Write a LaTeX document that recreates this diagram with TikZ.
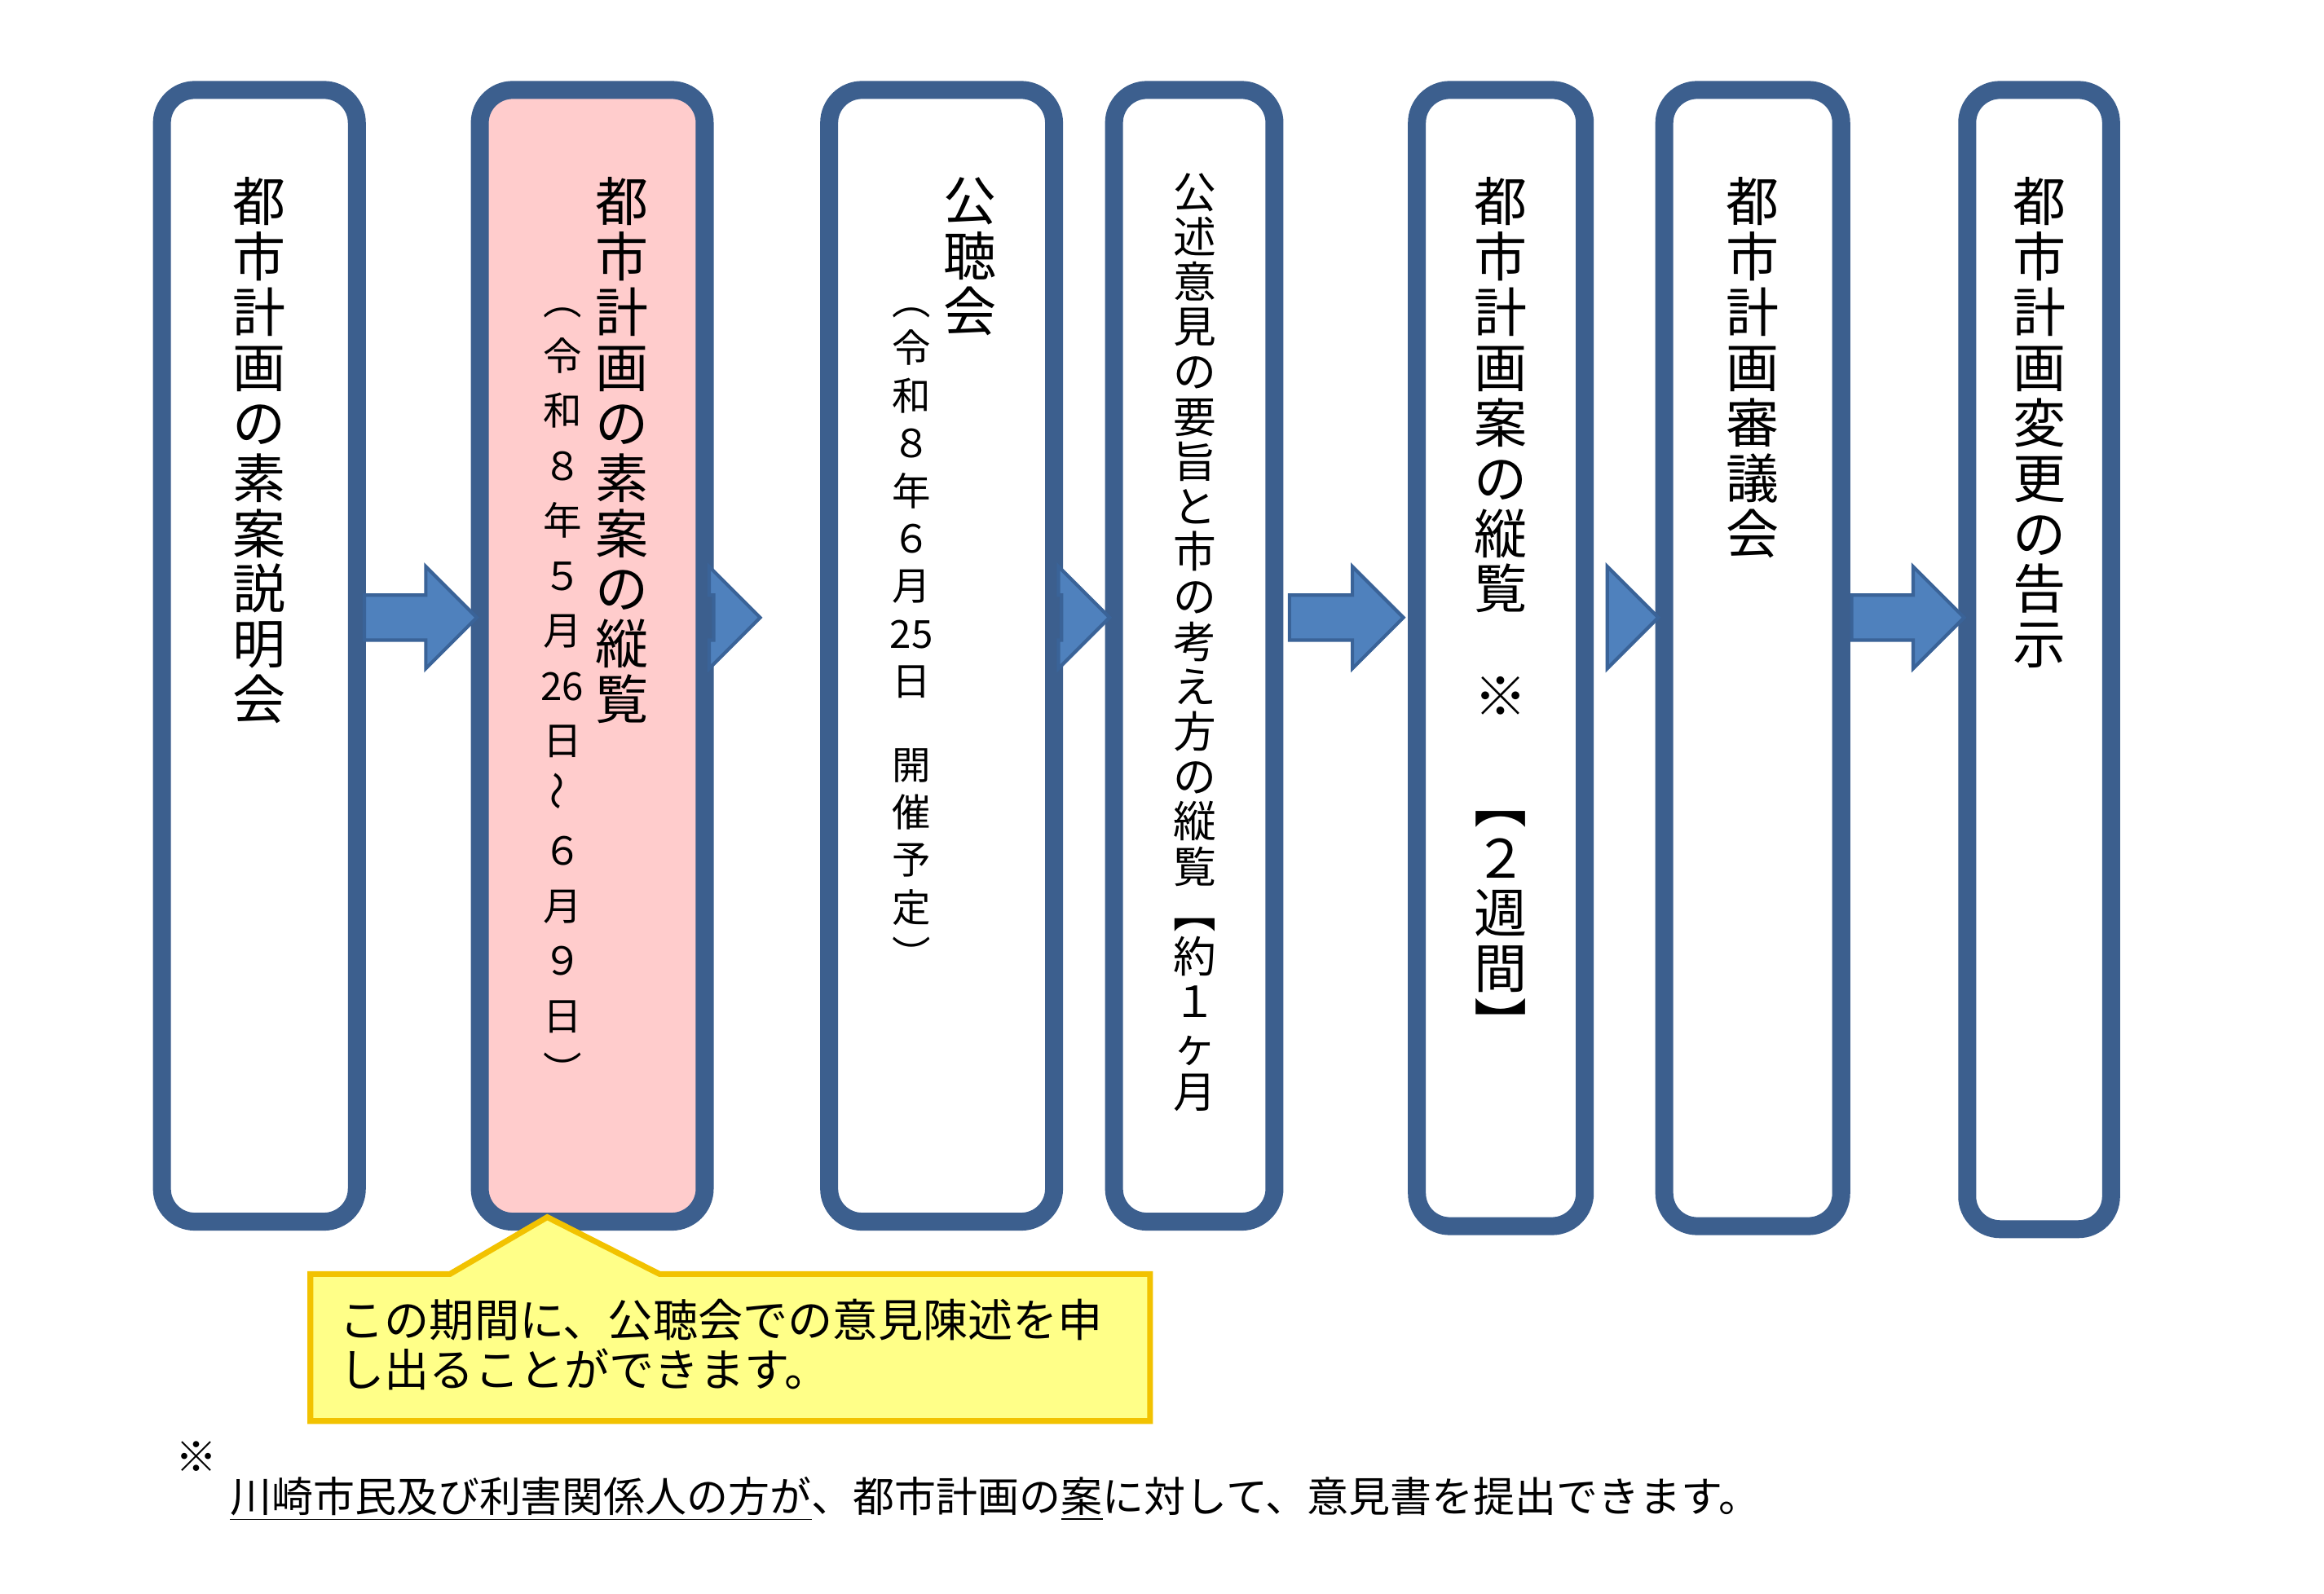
\documentclass[tikz,border=0pt]{standalone}
\usepackage{fontspec}
\newfontfamily\jp{Noto Sans CJK JP}
\usepackage{xcolor}
\definecolor{bd}{HTML}{3C5F8E}
\definecolor{af}{HTML}{4F81BD}
\definecolor{ab}{HTML}{3A6398}
\definecolor{pk}{HTML}{FFCCCC}
\definecolor{yf}{HTML}{FFFF88}
\definecolor{yb}{HTML}{F2C200}
\begin{document}
\begin{tikzpicture}[x=0.01839cm,y=-0.01839cm,
 box/.style={draw=bd,line width=12*0.5218pt,rounded corners=22*0.5218pt},
 arr/.style={fill=af,draw=ab,line width=1.2pt},
 big/.style={anchor=north,align=center,inner sep=0pt,font=\jp\fontsize{18.5}{19.3}\selectfont},
 mid/.style={anchor=north,align=center,inner sep=0pt,font=\jp\fontsize{15}{15.7}\selectfont},
 sm/.style={anchor=north,align=center,inner sep=0pt,font=\jp\fontsize{13.5}{16.6}\selectfont}]
\useasboundingbox (0,0) rectangle (1550,1063);
\fill[white] (0,0) rectangle (1550,1063);
% boxes
\draw[box] (108,60) rectangle (238,815) coordinate (b1);
\draw[box,fill=pk] (320,60) rectangle (470,815) coordinate (b2);
\draw[box] (553,60) rectangle (703,815) coordinate (b3);
\draw[box] (743,60) rectangle (850,815) coordinate (b4);
\draw[box] (945,60) rectangle (1057,818) coordinate (b5);
\draw[box] (1110,60) rectangle (1228,818) coordinate (b6);
\draw[box] (1312,60) rectangle (1408,820) coordinate (b7);
% arrows
\newcommand\jarr[2]{\draw[arr] (#1,397) -- (#2-34,397) -- (#2-34,378) -- (#2,412) -- (#2-34,446) -- (#2-34,427) -- (#1,427) -- cycle;}
\jarr{243}{318}
\jarr{476}{507}
\jarr{708}{740}
\jarr{860}{936}
\jarr{1072}{1106}
\jarr{1235}{1310}
% texts
\node[big] (t1) at (173,118) {都\\市\\計\\画\\の\\素\\案\\説\\明\\会};
\node[big] (t2) at (415,118) {都\\市\\計\\画\\の\\素\\案\\の\\縦\\覧};
\node[sm,font=\jp\fontsize{13.5}{19.2}\selectfont] (s2) at (375,205) {︵\\令\\和\\８\\年\\５\\月\\26\\日\\\rotatebox{90}{〜}\\６\\月\\９\\日\\︶};
\node[big] (t3) at (647,118) {公\\聴\\会};
\node[sm] (s3) at (608,205) {︵\\令\\和\\８\\年\\６\\月\\25\\日\\[-4pt]\\開\\催\\予\\定\\︶};
\node[mid] (t4) at (797,115) {公\\述\\意\\見\\の\\要\\旨\\と\\市\\の\\考\\え\\方\\の\\縦\\覧\\︻\\約\\１\\ヶ\\月};
\node[big] (t5) at (1001,118) {都\\市\\計\\画\\案\\の\\縦\\覧\\[18pt]※\\[18pt]︻\\２\\週\\間\\︼};
\node[big] (t6) at (1169,118) {都\\市\\計\\画\\審\\議\\会};
\node[big] (t7) at (1360,118) {都\\市\\計\\画\\変\\更\\の\\告\\示};
% callout
\draw[fill=yf,draw=yb,line width=2pt] (207,850) -- (300,850) -- (365,812) -- (440,850) -- (767,850) -- (767,948) -- (207,948) -- cycle;
\node[anchor=west,align=left,inner sep=0pt,font=\jp\fontsize{15.7}{17.5}\selectfont] (c) at (226,897) {この期間に、公聴会での意見陳述を申\\し出ることができます。};
% footnote
\node[inner sep=0pt,font=\jp\fontsize{14.5}{15}\selectfont] (ast) at (131,972) {※};
\node[anchor=west,inner sep=0pt,font=\jp\fontsize{14.5}{15}\selectfont] (fn) at (153,1000) {\underline{川崎市民及び利害関係人の方が}、都市計画の\underline{案}に対して、意見書を提出できます。};
\end{tikzpicture}
\end{document}
